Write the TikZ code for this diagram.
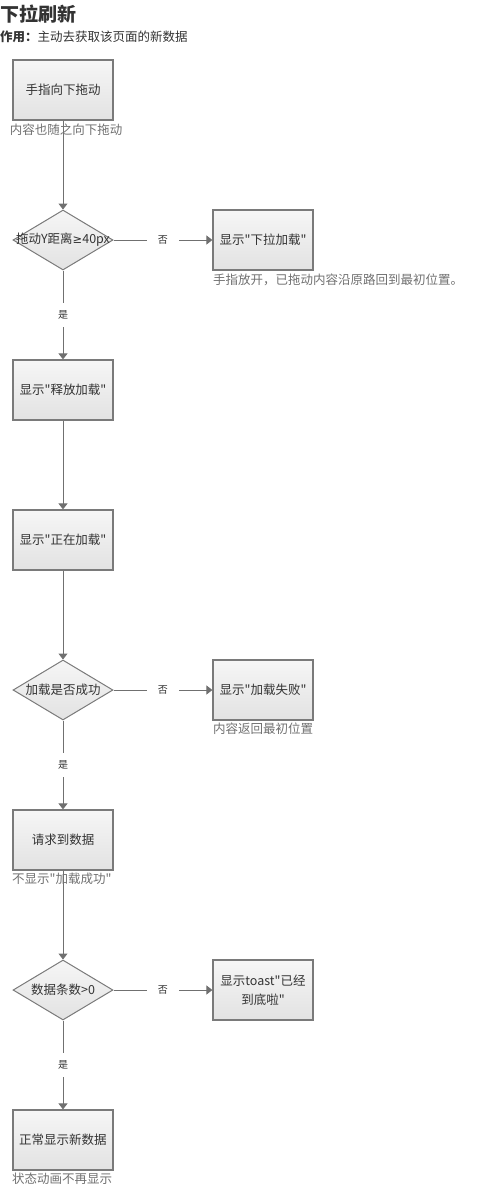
\documentclass[tikz,border=0pt]{standalone}
\usepackage{fontspec}
\setmainfont{Noto Sans CJK SC}
\newfontfamily\symfont{DejaVu Sans}
\newfontfamily\qfont{Noto Sans CJK SC}
\usetikzlibrary{shapes.geometric,arrows.meta}
\newcommand{\myq}{{\qfont"}}
\definecolor{bord}{HTML}{7A7A7A}
\definecolor{arrc}{HTML}{707070}
\definecolor{boxtop}{HTML}{F6F6F6}
\definecolor{boxbot}{HTML}{E2E2E2}
\definecolor{txt}{HTML}{333333}
\definecolor{captc}{HTML}{707070}
\tikzset{
  box/.style={draw=bord, line width=1.2pt, top color=boxtop, bottom color=boxbot,
    minimum width=100pt, minimum height=60pt, inner sep=0pt, text=txt,
    font=\fontsize{12.5}{19}\selectfont, align=center},
  dia/.style={diamond, draw=bord, line width=1pt, top color=boxtop, bottom color=boxbot,
    minimum width=100pt, minimum height=60pt, inner sep=0pt},
  diatext/.style={text=txt, font=\fontsize{12.5}{15}\selectfont, inner sep=0pt},
  arr/.style={draw=arrc, line width=1pt, -{Triangle[width=9pt,length=6pt]}},
  lbl/.style={fill=white, font=\fontsize{10}{12}\selectfont, text=txt,
    minimum width=32pt, minimum height=24pt, inner sep=0pt},
  captxt/.style={font=\fontsize{12.5}{15}\selectfont, text=captc, inner sep=0pt}
}
\begin{document}
\begin{tikzpicture}[x=1pt,y=-1pt]
\useasboundingbox (0,0) rectangle (501,1189);
\node[anchor=west, inner sep=0pt, text=txt, font=\fontsize{19}{22}\selectfont\bfseries] (title) at (0,14) {下拉刷新};
\node[anchor=west, inner sep=0pt, text=txt, font=\fontsize{12.5}{15}\selectfont] (sub) at (0,37) {\textbf{作用：}主动去获取该页面的新数据};

\node[box] (b1) at (63,90) {手指向下拖动};
\node[dia] (d1) at (63,240) {};
\node[diatext] (d1t) at (d1) {拖动Y距离{\symfont\fontsize{11.5}{14}\selectfont ≥}40px};
\node[box] (r1) at (263,240) {显示\myq 下拉加载\myq};
\node[box] (b2) at (63,390) {显示\myq 释放加载\myq};
\node[box] (b3) at (63,540) {显示\myq 正在加载\myq};
\node[dia] (d2) at (63,690) {};
\node[diatext] (d2t) at (d2) {加载是否成功};
\node[box] (r2) at (263,690) {显示\myq 加载失败\myq};
\node[box] (b4) at (63,840) {请求到数据};
\node[dia] (d3) at (63,990) {};
\node[diatext] (d3t) at (d3) {数据条数>0};
\node[box] (r3) at (263,990) {显示toast\myq 已经\\到底啦\myq};
\node[box] (b5) at (63,1140) {正常显示新数据};

\draw[arr] (b1.south) -- (d1.north);
\draw[arr] (d1.east) -- (r1.west) node[midway, lbl] {否};
\draw[arr] (d1.south) -- (b2.north) node[midway, lbl] {是};
\draw[arr] (b2.south) -- (b3.north);
\draw[arr] (b3.south) -- (d2.north);
\draw[arr] (d2.east) -- (r2.west) node[midway, lbl] {否};
\draw[arr] (d2.south) -- (b4.north) node[midway, lbl] {是};
\draw[arr] (b4.south) -- (d3.north);
\draw[arr] (d3.east) -- (r3.west) node[midway, lbl] {否};
\draw[arr] (d3.south) -- (b5.north) node[midway, lbl] {是};

\node[captxt] (c1) at (66,130) {内容也随之向下拖动};
\node[captxt, anchor=west] (c2) at (213,280) {手指放开，已拖动内容沿原路回到最初位置。};
\node[captxt] (c3) at (263,729) {内容返回最初位置};
\node[captxt, anchor=west] (c4) at (12,879) {不显示\myq 加载成功\myq};
\node[captxt, anchor=west] (c5) at (12,1179) {状态动画不再显示};
\end{tikzpicture}
\end{document}
